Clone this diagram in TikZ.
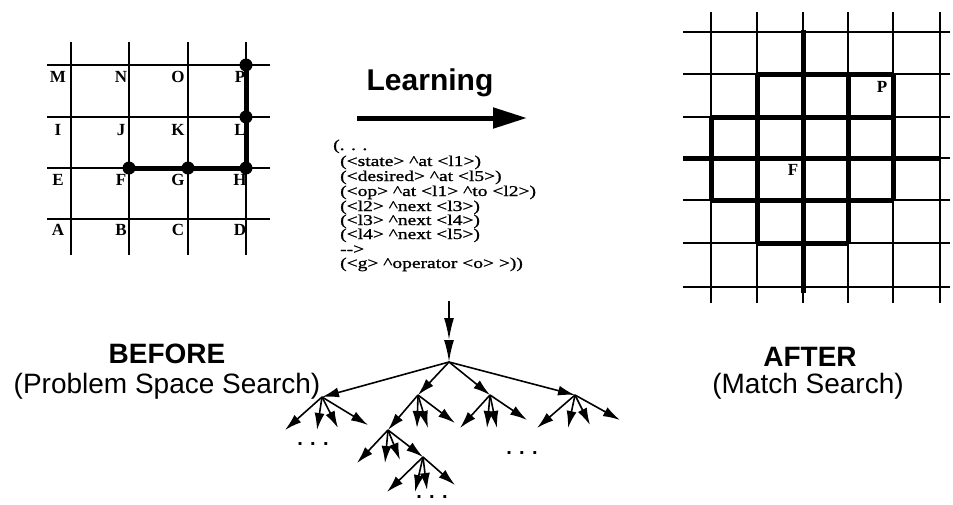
\documentclass[tikz,border=0pt]{standalone}
\usepackage{fontspec}
\setmainfont{Liberation Serif}
\setsansfont{Liberation Sans}
\newfontfamily\chunkfont[FakeStretch=1.3, FakeBold=1.2]{Liberation Serif}
\usetikzlibrary{arrows.meta}

\begin{document}
\begin{tikzpicture}[x=1pt, y=-1pt,
  gridline/.style={line width=1.8pt},
  pathline/.style={line width=5pt},
  cell/.style={font=\fontsize{17}{17}\selectfont\bfseries, inner sep=0pt},
  code/.style={anchor=base west, inner sep=0pt, font=\chunkfont\fontsize{15}{15}\selectfont},
  branch/.style={line width=1.6pt, -{Latex[length=17pt,width=10pt]}},
  feed/.style={line width=1.8pt, -{Latex[length=22pt,width=10pt]}},
  heading/.style={font=\sffamily\bfseries\fontsize{28}{28}\selectfont},
  subheading/.style={font=\sffamily\fontsize{28}{28}\selectfont},
  more/.style={font=\sffamily\bfseries\fontsize{20}{20}\selectfont}]

\useasboundingbox (0,0) rectangle (953,504);

% ── BEFORE GRID: 4x4 cells, columns x=71..246, rows y=65..219 ───────────
\foreach \x in {71,129,188,246} \draw[gridline] (\x,42) -- (\x,255);
\foreach \y in {65,117,168,219} \draw[gridline] (47,\y) -- (270,\y);

\foreach \l/\x/\y in {M/58/77, N/121/77, O/178/77, P/240/77,
                      I/58/130, J/121/130, K/178/130, L/240/130,
                      E/58/180, F/121/180, G/178/180, H/240/180,
                      A/58/230, B/121/230, C/178/230, D/240/230}
  \node[cell] (lbl\l) at (\x,\y) {\l};

% path found by search: F -> G -> H -> L -> P
\coordinate (sP) at (246,65);
\coordinate (sL) at (246,117);
\coordinate (sH) at (246,168);
\coordinate (sG) at (188,168);
\coordinate (sF) at (129,168);
\draw[pathline] (sP) -- (sL) -- (sH) -- (sG) -- (sF);
\foreach \s in {sP,sL,sH,sG,sF} \fill (\s) circle (6.5pt);

% ── LEARNING ARROW ──────────────────────────────────────────────────────
\node[heading, font=\sffamily\bfseries\fontsize{30}{30}\selectfont] (learn) at (430,83) {Learning};
\coordinate (learnfrom) at (357,118);
\coordinate (learnto) at (527,118);
\draw[line width=5pt, -{Triangle[length=34pt,width=20pt]}] (learnfrom) -- (learnto);

% ── LEARNED CHUNK ───────────────────────────────────────────────────────
\node[code] (chunk0) at (333,150) {(. . .};
\node[code] (chunk1) at (340,166) {(<state> \textasciicircum at <l1>)};
\node[code] (chunk2) at (340,181) {(<desired> \textasciicircum at <l5>)};
\node[code] (chunk3) at (340,196) {(<op> \textasciicircum at <l1> \textasciicircum to <l2>)};
\node[code] (chunk4) at (340,211) {(<l2> \textasciicircum next <l3>)};
\node[code] (chunk5) at (340,225) {(<l3> \textasciicircum next <l4>)};
\node[code] (chunk6) at (340,239) {(<l4> \textasciicircum next <l5>)};
\node[code] (chunk7) at (340,254) {-->};
\node[code] (chunk8) at (340,268) {(<g> \textasciicircum operator <o> >))};

% ── SEARCH TREE ─────────────────────────────────────────────────────────
\coordinate (top) at (449,301);
\coordinate (mid) at (449,340);
\coordinate (root) at (449,362);
\draw[feed] (top) -- (mid);
\draw[feed] (mid) -- (root);

\foreach \p/\n/\x/\y in {root/n1/322/397, root/n2/418/395, root/n3/490/395, root/n4/575/395,
    n1/n1a/285/430, n1/n1b/317/430, n1/n1c/338/428, n1/n1d/368/425,
    n2/n21/388/430, n2/n2b/417/428, n2/n2c/428/428, n2/n2d/455/423,
    n21/n21a/357/463, n21/n21b/385/463, n21/n21c/400/460, n21/n212/423/457,
    n212/n212a/387/492, n212/n212b/415/492, n212/n212c/427/490, n212/n212d/455/485,
    n3/n3a/460/428, n3/n3b/487/428, n3/n3c/497/428, n3/n3d/527/420,
    n4/n4a/537/428, n4/n4b/568/428, n4/n4c/590/425, n4/n4d/620/420}
{
  \coordinate (\n) at (\x,\y);
  \draw[branch] (\p) -- (\n);
}

\node[more] (moreleft) at (313,444) {. . .};
\node[more] (moreright) at (522,453) {. . .};
\node[more] (morebottom) at (432,497) {. . .};

% ── AFTER GRID: 6 columns x=711..940, 7 rows y=32..287 ──────────────────
\foreach \x in {711,757,803,848,893,940} \draw[gridline] (\x,12) -- (\x,303);
\foreach \y in {32,74,117,158,200,243,287} \draw[gridline] (683,\y) -- (950,\y);

% cells reachable by match
\draw[pathline] (757,74) -- (893,74);
\draw[pathline] (711,117) -- (893,117);
\draw[pathline] (683,158) -- (940,158);
\draw[pathline] (711,200) -- (893,200);
\draw[pathline] (757,243) -- (848,243);
\draw[pathline] (711,117) -- (711,200);
\draw[pathline] (757,74) -- (757,243);
\draw[pathline] (803,30) -- (803,293);
\draw[pathline] (848,74) -- (848,243);
\draw[pathline] (893,74) -- (893,200);

\node[cell] (afterP) at (882,87) {P};
\node[cell] (afterF) at (793,170) {F};

% ── CAPTIONS ────────────────────────────────────────────────────────────
\node[heading] (before) at (167,354) {BEFORE};
\node[subheading] (beforesub) at (167,386) {(Problem Space Search)};
\node[heading] (after) at (810,357) {AFTER};
\node[subheading] (aftersub) at (808,386) {(Match Search)};

\end{tikzpicture}
\end{document}
